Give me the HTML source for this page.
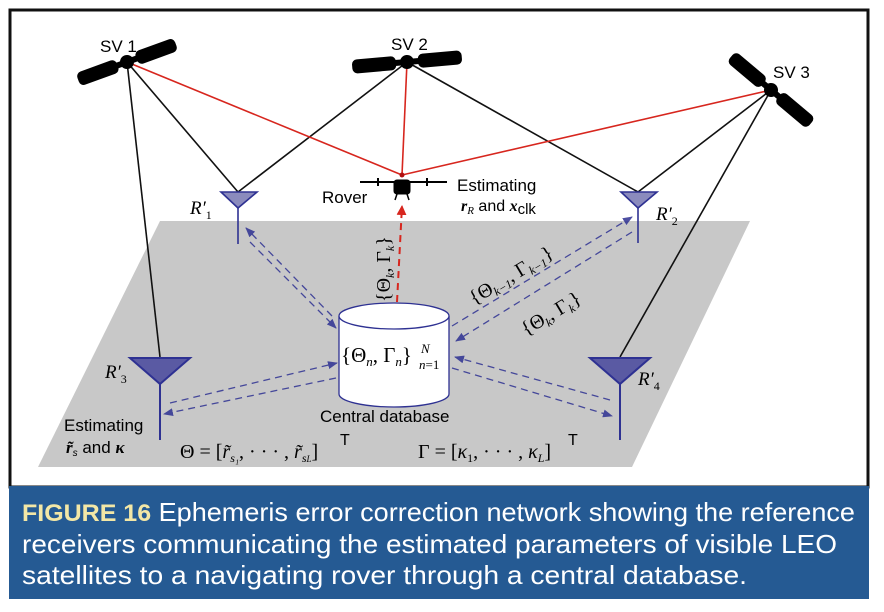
<!DOCTYPE html>
<html><head><meta charset="utf-8"><style>
body{margin:0;background:#fff;width:884px;height:612px;overflow:hidden;font-family:"Liberation Sans",sans-serif}
</style></head><body>
<svg width="884" height="612" style="position:absolute;left:0;top:0" font-family="Liberation Sans, sans-serif">
<defs>
<marker id="ab" markerWidth="10" markerHeight="8" refX="9" refY="4" orient="auto" markerUnits="userSpaceOnUse"><path d="M0,0L10,4L0,8z" fill="#2e3192"/></marker>
<marker id="ar" markerWidth="10" markerHeight="10" refX="9" refY="5" orient="auto" markerUnits="userSpaceOnUse"><path d="M0,0L10,5L0,10z" fill="#d7261e"/></marker>
</defs>
<rect x="10" y="10" width="858" height="477" fill="#fff" stroke="#111" stroke-width="3"/>
<polygon points="160,221 750,221 632,467 38,467" fill="#c8c8c8"/>
<g stroke="#111" stroke-width="1.6" fill="none">
<line x1="127" y1="62" x2="238" y2="192"/><line x1="127" y1="62" x2="160" y2="357"/>
<line x1="407" y1="62" x2="238" y2="192"/><line x1="407" y1="62" x2="638" y2="192"/>
<line x1="771" y1="90" x2="638" y2="192"/><line x1="771" y1="90" x2="620" y2="357"/>
</g>
<g stroke="#d7261e" stroke-width="1.6">
<line x1="127" y1="62" x2="402" y2="175"/><line x1="407" y1="62" x2="402" y2="175"/><line x1="771" y1="90" x2="402" y2="175"/>
</g>
<circle cx="402" cy="175" r="2.5" fill="#b01010"/>
<g fill="#000">
<g transform="translate(127,62) rotate(-20)"><rect x="-52" y="-7" width="42" height="14" rx="5"/><rect x="10" y="-7" width="42" height="14" rx="5"/><circle r="7"/><rect x="-12" y="-3" width="24" height="6"/></g>
<g transform="translate(407,62) rotate(-5)"><rect x="-55" y="-7" width="44" height="14" rx="5"/><rect x="11" y="-7" width="44" height="14" rx="5"/><circle r="7"/><rect x="-12" y="-3" width="24" height="6"/></g>
<g transform="translate(771,90) rotate(40)"><rect x="-52" y="-7" width="42" height="14" rx="5"/><rect x="10" y="-7" width="42" height="14" rx="5"/><circle r="7"/><rect x="-12" y="-3" width="24" height="6"/></g>
</g>
<text x="100" y="52" font-size="17">SV 1</text>
<text x="391" y="50" font-size="17">SV 2</text>
<text x="773" y="78" font-size="17">SV 3</text>
<g fill="#000" stroke="#000">
<line x1="360" y1="182" x2="447" y2="182" stroke-width="2"/>
<rect x="394" y="180" width="16" height="14" rx="3"/>
<line x1="378" y1="178" x2="378" y2="186" stroke-width="2"/><line x1="427" y1="178" x2="427" y2="186" stroke-width="2"/>
<line x1="397" y1="194" x2="395" y2="200" stroke-width="1.5"/><line x1="407" y1="194" x2="409" y2="200" stroke-width="1.5"/>
</g>
<text x="322" y="203" font-size="17">Rover</text>
<text x="457" y="191" font-size="17">Estimating</text>
<text x="461" y="211" font-size="16" font-style="italic" font-weight="bold" font-family="Liberation Serif, serif">r<tspan font-size="11" font-weight="normal" dy="3">R</tspan><tspan dy="-3" font-style="normal" font-weight="normal" font-family="Liberation Sans, sans-serif"> and </tspan>x<tspan font-size="15" font-style="normal" font-weight="normal" font-family="Liberation Sans, sans-serif" dy="3">clk</tspan></text>
<g fill="#8b8bbd" stroke="#2e3192" stroke-width="1.6">
<polygon points="221,192 257,192 238,208"/><line x1="238" y1="208" x2="238" y2="244"/>
<polygon points="621,192 657,192 638,208"/><line x1="638" y1="208" x2="638" y2="243"/>
</g>
<g fill="#5a5aa3" stroke="#2e3192" stroke-width="2">
<polygon points="130,358 190,358 160,384"/><line x1="160" y1="384" x2="160" y2="440"/>
<polygon points="590,358 650,358 620,384"/><line x1="620" y1="384" x2="620" y2="440"/>
</g>
<g font-family="Liberation Serif, serif" font-style="italic" font-size="19">
<text x="190" y="214">R′<tspan font-size="12" dy="5" font-style="normal">1</tspan></text>
<text x="656" y="220">R′<tspan font-size="12" dy="5" font-style="normal">2</tspan></text>
<text x="105" y="378">R′<tspan font-size="12" dy="5" font-style="normal">3</tspan></text>
<text x="638" y="385">R′<tspan font-size="12" dy="5" font-style="normal">4</tspan></text>
</g>
<path d="M339,316 L339,394 A55,13 0 0 0 449,394 L449,316" fill="#fff" stroke="#2e3192" stroke-width="1.3"/>
<ellipse cx="394" cy="316" rx="55" ry="13" fill="#fff" stroke="#2e3192" stroke-width="1.3"/>
<text x="341" y="362" font-size="21" font-family="Liberation Serif, serif">{Θ<tspan font-size="13" font-style="italic" dy="4">n</tspan><tspan dy="-4">, Γ</tspan><tspan font-size="13" font-style="italic" dy="4">n</tspan><tspan dy="-4">}</tspan><tspan font-size="13" font-style="italic" dy="-9" x="421">N</tspan><tspan font-size="13" font-style="italic" dy="16" x="419">n</tspan><tspan font-size="13">=1</tspan></text>
<text x="320" y="422" font-size="17">Central database</text>
<g stroke="#2e3192" stroke-width="1.3" stroke-dasharray="7,5" fill="none" marker-end="url(#ab)" opacity="0.85">
<line x1="332" y1="316" x2="246" y2="228"/><line x1="250" y1="242" x2="336" y2="328"/>
<line x1="452" y1="326" x2="632" y2="217"/><line x1="632" y1="232" x2="456" y2="341"/>
<line x1="170" y1="403" x2="337" y2="363"/><line x1="336" y1="378" x2="164" y2="414"/>
<line x1="610" y1="400" x2="455" y2="357"/><line x1="452" y1="368" x2="612" y2="416"/>
</g>
<line x1="397" y1="302" x2="402" y2="206" stroke="#d7261e" stroke-width="2" stroke-dasharray="7,5" marker-end="url(#ar)"/>
<g font-family="Liberation Serif, serif" font-size="20">
<text transform="translate(390,302) rotate(-90)">{Θ<tspan font-size="12" font-style="italic" dy="4">k</tspan><tspan dy="-4">, Γ</tspan><tspan font-size="12" font-style="italic" dy="4">k</tspan><tspan dy="-4">}</tspan></text>
<text transform="translate(474,305) rotate(-31)">{Θ<tspan font-size="12" font-style="italic" dy="4">k−1</tspan><tspan dy="-4">, Γ</tspan><tspan font-size="12" font-style="italic" dy="4">k−1</tspan><tspan dy="-4">}</tspan></text>
<text transform="translate(526,336) rotate(-31)">{Θ<tspan font-size="12" font-style="italic" dy="4">k</tspan><tspan dy="-4">, Γ</tspan><tspan font-size="12" font-style="italic" dy="4">k</tspan><tspan dy="-4">}</tspan></text>
<text x="180" y="458">Θ = [<tspan font-style="italic">r̃</tspan><tspan font-size="12" font-style="italic" dy="4">s₁</tspan><tspan dy="-4">, · · · , </tspan><tspan font-style="italic">r̃</tspan><tspan font-size="12" font-style="italic" dy="4">s<tspan font-size="9">L</tspan></tspan><tspan dy="-4">]</tspan></text>
<text x="418" y="458">Γ = [<tspan font-style="italic">κ</tspan><tspan font-size="12" dy="4">1</tspan><tspan dy="-4">, · · · , </tspan><tspan font-style="italic">κ</tspan><tspan font-size="12" font-style="italic" dy="4">L</tspan><tspan dy="-4">]</tspan></text>
</g>
<text x="340" y="445" font-size="16">T</text><text x="568" y="445" font-size="16">T</text>
<text x="64" y="431" font-size="17">Estimating</text>
<text x="66" y="453" font-size="17"><tspan font-family="Liberation Serif, serif" font-style="italic" font-weight="bold">r̃</tspan><tspan font-size="10" font-style="italic" dy="3">s</tspan><tspan dy="-3"> and </tspan><tspan font-family="Liberation Serif, serif" font-style="italic" font-weight="bold">κ</tspan></text>
<rect x="9" y="486" width="860" height="113" fill="#255a93"/>
<g fill="#fff" font-size="26">
<text x="22" y="521" textLength="833" lengthAdjust="spacingAndGlyphs"><tspan fill="#f3e7a6" font-weight="bold" font-size="24">FIGURE 16</tspan>  Ephemeris error correction network showing the reference</text>
<text x="22" y="553" textLength="815" lengthAdjust="spacingAndGlyphs">receivers communicating the estimated parameters of visible LEO</text>
<text x="22" y="584" textLength="725" lengthAdjust="spacingAndGlyphs">satellites to a navigating rover through a central database.</text>
</g>
</svg>
</body></html>
